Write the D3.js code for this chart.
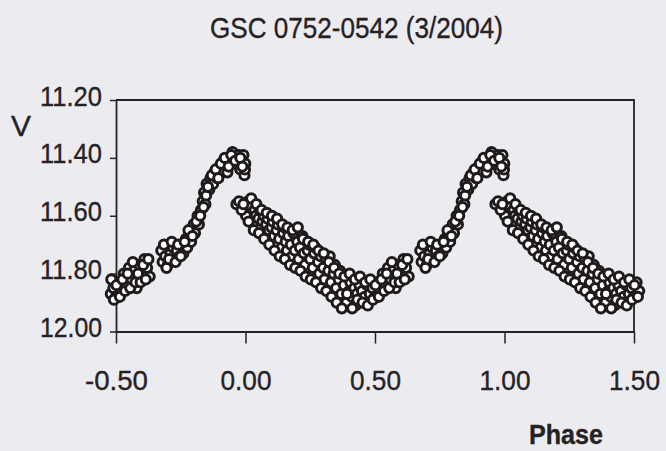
<!DOCTYPE html>
<html>
<head>
<meta charset="utf-8">
<script src="https://cdn.jsdelivr.net/npm/d3@7"></script>
<style>
  html, body { margin: 0; padding: 0; background: #ecebf0; }
  svg { display: block; }
  text { font-family: "Liberation Sans", Arial, sans-serif; fill: #262224; stroke: #262224; stroke-width: 0.35; }
</style>
</head>
<body>
<svg id="chart" width="666" height="451"></svg>
<script>
// one cycle of the folded light curve: phase (0..1) and V magnitude
const phases = [
  0.000, 0.005, 0.010, 0.015, 0.020, 0.025, 0.030, 0.035, 0.040, 0.045,
  0.050, 0.055, 0.060, 0.065, 0.070, 0.075, 0.080, 0.085, 0.090, 0.095,
  0.100, 0.105, 0.110, 0.115, 0.120, 0.125, 0.130, 0.140, 0.145, 0.150,
  0.155, 0.160, 0.165, 0.175, 0.180, 0.185, 0.190, 0.200, 0.205, 0.210,
  0.220, 0.225, 0.230, 0.240, 0.245, 0.250, 0.260, 0.265, 0.270, 0.280,
  0.285, 0.290, 0.300, 0.305, 0.310, 0.320, 0.325, 0.330, 0.340, 0.345,
  0.350, 0.360, 0.365, 0.370, 0.380, 0.385, 0.390, 0.400, 0.405, 0.410,
  0.420, 0.425, 0.430, 0.440, 0.445, 0.450, 0.460, 0.470, 0.480, 0.490,
  0.500, 0.510, 0.520, 0.530, 0.540, 0.550, 0.560, 0.570, 0.580, 0.590,
  0.600, 0.610, 0.620, 0.630,
  0.002, 0.012, 0.022, 0.032, 0.042, 0.052, 0.062, 0.072, 0.082, 0.092,
  0.102, 0.112, 0.122, 0.132, 0.142, 0.152, 0.162, 0.172, 0.182, 0.192,
  0.202, 0.212, 0.222, 0.232, 0.242, 0.252, 0.262, 0.272, 0.282, 0.292,
  0.302, 0.312, 0.322, 0.332, 0.342, 0.352, 0.362, 0.372, 0.382, 0.392,
  0.402, 0.412, 0.422, 0.432, 0.442, 0.452, 0.462, 0.472, 0.482, 0.492,
  0.502, 0.515, 0.525, 0.535, 0.545, 0.555, 0.565, 0.575, 0.585, 0.595,
  0.605, 0.615, 0.625,
  0.675, 0.680, 0.690, 0.700, 0.710, 0.720, 0.725, 0.735, 0.745, 0.755,
  0.760, 0.770, 0.775, 0.785, 0.790, 0.800, 0.805, 0.815, 0.820, 0.828,
  0.835, 0.840, 0.845, 0.850, 0.860, 0.865, 0.875, 0.880, 0.890, 0.900,
  0.910, 0.915, 0.925, 0.930, 0.940, 0.950, 0.955, 0.975, 0.980, 0.985,
  0.992, 0.996, 0.999,
  0.685, 0.695, 0.705, 0.715, 0.730, 0.740, 0.750, 0.765, 0.780, 0.795,
  0.810, 0.825, 0.838, 0.848, 0.855, 0.870, 0.885, 0.895, 0.905, 0.920,
  0.935, 0.945, 0.960, 0.980, 0.998, 0.988,
  0.965, 0.975, 0.985, 0.992
];
const vmags = [
  11.56, 11.58, 11.55, 11.60, 11.57, 11.59, 11.62, 11.58, 11.60, 11.63,
  11.61, 11.58, 11.64, 11.62, 11.60, 11.66, 11.63, 11.61, 11.65, 11.68,
  11.64, 11.62, 11.67, 11.70, 11.65, 11.63, 11.68, 11.71, 11.66, 11.64,
  11.69, 11.72, 11.67, 11.70, 11.74, 11.66, 11.72, 11.69, 11.75, 11.71,
  11.67, 11.73, 11.77, 11.72, 11.70, 11.75, 11.78, 11.73, 11.71, 11.76,
  11.80, 11.74, 11.78, 11.82, 11.75, 11.79, 11.74, 11.83, 11.80, 11.77,
  11.85, 11.82, 11.79, 11.87, 11.84, 11.81, 11.90, 11.86, 11.83, 11.88,
  11.85, 11.91, 11.87, 11.84, 11.89, 11.86, 11.88, 11.84, 11.87, 11.85,
  11.88, 11.83, 11.86, 11.80, 11.84, 11.78, 11.82, 11.79, 11.85, 11.77,
  11.80, 11.75, 11.78, 11.81,
  11.60, 11.62, 11.54, 11.65, 11.56, 11.66, 11.58, 11.68, 11.59, 11.70,
  11.60, 11.72, 11.61, 11.74, 11.63, 11.75, 11.64, 11.77, 11.65, 11.78,
  11.64, 11.79, 11.68, 11.81, 11.69, 11.82, 11.70, 11.83, 11.72, 11.85,
  11.73, 11.86, 11.76, 11.88, 11.78, 11.90, 11.80, 11.92, 11.81, 11.87,
  11.80, 11.92, 11.82, 11.89, 11.81, 11.90, 11.83, 11.91, 11.82, 11.89,
  11.84, 11.88, 11.82, 11.86, 11.80, 11.85, 11.76, 11.83, 11.80, 11.83,
  11.77, 11.82, 11.75,
  11.72, 11.76, 11.74, 11.77, 11.73, 11.71, 11.75, 11.72, 11.74, 11.70,
  11.73, 11.68, 11.71, 11.66, 11.69, 11.63, 11.66, 11.60, 11.63, 11.58,
  11.55, 11.52, 11.56, 11.49, 11.51, 11.47, 11.49, 11.45, 11.47, 11.43,
  11.45, 11.41, 11.42, 11.45, 11.40, 11.38, 11.42, 11.39, 11.44, 11.41,
  11.39, 11.46, 11.42,
  11.70, 11.78, 11.75, 11.69, 11.76, 11.70, 11.74, 11.69, 11.65, 11.67,
  11.62, 11.60, 11.57, 11.53, 11.50, 11.46, 11.44, 11.47, 11.42, 11.40,
  11.43, 11.39, 11.41, 11.40, 11.44, 11.43,
  11.56, 11.55, 11.58, 11.56
];

const xTicks = [-0.5, 0, 0.5, 1, 1.5];
const yTicks = [11.2, 11.4, 11.6, 11.8, 12.0];

const title = "GSC 0752-0542 (3/2004)";

const svg = d3.select("#chart");
const margin = { top: 100, right: 32, bottom: 119.5, left: 116 };
const width = 666, height = 451;

const x = d3.scaleLinear().domain([-0.5, 1.5]).range([margin.left, width - margin.right]);
const y = d3.scaleLinear().domain([11.2, 12.0]).range([margin.top, height - margin.bottom]);

const fmt = d => d3.format(".2f")(d).replace("\u2212", "-");

// phase diagram shows two cycles: each point at its phase and one cycle over
const points = [];
phases.forEach((p, i) => {
  [-1, 0, 1].forEach(k => {
    const ph = p + k;
    if (ph >= -0.52 && ph <= 1.52) points.push({ ph, v: vmags[i] });
  });
});

// frame (top + right)
svg.append("path")
  .attr("d", `M${x(-0.5)},${y(11.2)}H${x(1.5)}V${y(12.0)}`)
  .attr("fill", "none")
  .attr("stroke", "#262224")
  .attr("stroke-width", 1.8);

// x axis
const gx = svg.append("g")
  .attr("transform", `translate(0,${y(12.0)})`)
  .call(d3.axisBottom(x).tickValues(xTicks).tickSize(12).tickSizeOuter(0).tickFormat(fmt));
gx.select(".domain").attr("stroke", "#262224").attr("stroke-width", 1.8);
gx.selectAll(".tick line").attr("stroke", "#262224").attr("stroke-width", 1.5);
gx.selectAll(".tick text")
  .attr("y", 58).attr("dy", 0)
  .attr("font-size", 28)
  .attr("fill", "#262224")
  .attr("textLength", d => d < 0 ? 63 : 51)
  .attr("lengthAdjust", "spacingAndGlyphs");

// y axis
const gy = svg.append("g")
  .attr("transform", `translate(${x(-0.5)},0)`)
  .call(d3.axisLeft(y).tickValues(yTicks).tickSize(6).tickSizeOuter(0).tickFormat(fmt));
gy.select(".domain").attr("stroke", "#262224").attr("stroke-width", 1.8);
gy.selectAll(".tick line").attr("stroke", "#262224").attr("stroke-width", 1.5);
gy.selectAll(".tick text")
  .attr("x", -14).attr("dy", 5)
  .attr("font-size", 27)
  .attr("fill", "#262224")
  .attr("textLength", 62)
  .attr("lengthAdjust", "spacingAndGlyphs");

// points
svg.append("g")
  .selectAll("circle")
  .data(points)
  .join("circle")
  .attr("cx", d => x(d.ph))
  .attr("cy", d => y(d.v))
  .attr("r", 4.6)
  .attr("fill", "#ffffff")
  .attr("stroke", "#1f1b1d")
  .attr("stroke-width", 3);

// labels
svg.append("text")
  .attr("x", 210).attr("y", 38)
  .attr("font-size", 29)
  .attr("textLength", 293)
  .attr("lengthAdjust", "spacingAndGlyphs")
  .text(title);

svg.append("text")
  .attr("x", 11).attr("y", 136)
  .attr("font-size", 30)
  .text("V");

svg.append("text")
  .attr("x", 529).attr("y", 444)
  .attr("font-size", 27)
  .attr("font-weight", "bold")
  .attr("textLength", 74)
  .attr("lengthAdjust", "spacingAndGlyphs")
  .text("Phase");
</script>
</body>
</html>
